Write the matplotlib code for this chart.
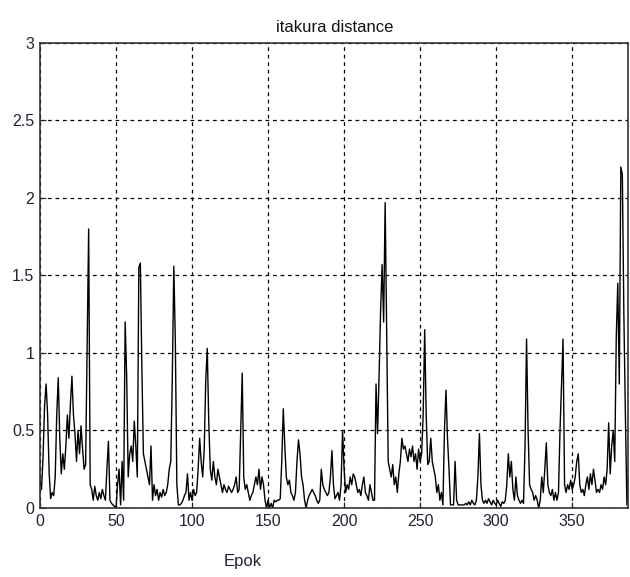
import matplotlib
matplotlib.use("Agg")
import matplotlib.pyplot as plt
import numpy as np

# itakura distance per epoch
dist = [
    0.18, 0.12, 0.33, 0.66, 0.80, 0.60, 0.23, 0.06, 0.10, 0.08,
    0.20, 0.60, 0.84, 0.45, 0.22, 0.35, 0.25, 0.40, 0.60, 0.45,
    0.67, 0.85, 0.60, 0.48, 0.30, 0.50, 0.35, 0.53, 0.38, 0.25,
    0.28, 1.05, 1.80, 0.15, 0.12, 0.05, 0.14, 0.08, 0.05, 0.10,
    0.06, 0.12, 0.08, 0.05, 0.25, 0.43, 0.05, 0.03, 0.02, 0.01,
    0.00, 0.15, 0.25, 0.02, 0.30, 0.05, 1.20, 0.85, 0.20, 0.35,
    0.40, 0.30, 0.56, 0.40, 0.20, 1.55, 1.58, 0.90, 0.35, 0.30,
    0.25, 0.20, 0.15, 0.40, 0.05, 0.15, 0.08, 0.12, 0.05, 0.10,
    0.07, 0.12, 0.08, 0.10, 0.15, 0.25, 0.30, 0.83, 1.56, 1.08,
    0.15, 0.02, 0.02, 0.03, 0.05, 0.08, 0.10, 0.22, 0.05, 0.10,
    0.05, 0.12, 0.08, 0.10, 0.25, 0.45, 0.30, 0.20, 0.38, 0.82,
    1.03, 0.55, 0.25, 0.18, 0.30, 0.20, 0.15, 0.25, 0.20, 0.15,
    0.10, 0.15, 0.12, 0.10, 0.14, 0.12, 0.10, 0.12, 0.15, 0.20,
    0.10, 0.12, 0.50, 0.87, 0.20, 0.12, 0.15, 0.10, 0.05, 0.08,
    0.10, 0.15, 0.20, 0.15, 0.25, 0.12, 0.20, 0.15, 0.05, 0.00,
    0.05, 0.00, 0.03, 0.00, 0.05, 0.04, 0.05, 0.05, 0.06, 0.30,
    0.64, 0.40, 0.20, 0.15, 0.18, 0.10, 0.08, 0.05, 0.10, 0.30,
    0.44, 0.35, 0.20, 0.15, 0.05, 0.00, 0.05, 0.08, 0.10, 0.12,
    0.10, 0.08, 0.05, 0.03, 0.05, 0.25, 0.15, 0.12, 0.10, 0.08,
    0.10, 0.20, 0.37, 0.15, 0.06, 0.08, 0.10, 0.05, 0.15, 0.50,
    0.25, 0.10, 0.15, 0.12, 0.20, 0.15, 0.22, 0.20, 0.15, 0.10,
    0.12, 0.08, 0.15, 0.20, 0.10, 0.08, 0.05, 0.15, 0.10, 0.05,
    0.05, 0.80, 0.48, 0.85, 1.27, 1.57, 1.20, 1.97, 1.15, 0.30,
    0.25, 0.20, 0.28, 0.15, 0.20, 0.10, 0.22, 0.30, 0.45, 0.38,
    0.40, 0.35, 0.30, 0.38, 0.33, 0.40, 0.30, 0.35, 0.25, 0.38,
    0.30, 0.35, 0.60, 1.15, 0.60, 0.28, 0.30, 0.45, 0.30, 0.25,
    0.20, 0.10, 0.15, 0.05, 0.10, 0.02, 0.50, 0.76, 0.45, 0.25,
    0.02, 0.02, 0.02, 0.30, 0.05, 0.02, 0.02, 0.02, 0.02, 0.02,
    0.03, 0.02, 0.04, 0.02, 0.05, 0.03, 0.02, 0.05, 0.20, 0.48,
    0.15, 0.05, 0.03, 0.05, 0.03, 0.06, 0.04, 0.02, 0.05, 0.03,
    0.02, 0.05, 0.03, 0.01, 0.04, 0.03, 0.05, 0.15, 0.35, 0.20,
    0.30, 0.12, 0.05, 0.20, 0.08, 0.05, 0.03, 0.05, 0.03, 0.40,
    1.09, 0.50, 0.15, 0.12, 0.10, 0.05, 0.08, 0.05, 0.00, 0.05,
    0.20, 0.10, 0.25, 0.42, 0.15, 0.10, 0.08, 0.12, 0.05, 0.10,
    0.05, 0.10, 0.50, 0.80, 1.09, 0.15, 0.10, 0.15, 0.12, 0.18,
    0.12, 0.15, 0.20, 0.30, 0.35, 0.15, 0.10, 0.12, 0.08, 0.15,
    0.20, 0.12, 0.22, 0.15, 0.25, 0.18, 0.10, 0.12, 0.10, 0.15,
    0.12, 0.20, 0.15, 0.25, 0.55, 0.22, 0.40, 0.50, 0.30, 1.10,
    1.45, 0.80, 2.20, 2.15, 1.25, 0.60, 0.02, 0.25,
]
epoch = np.arange(len(dist))

xticks = [0, 50, 100, 150, 200, 250, 300, 350]
yticks = [0, 0.5, 1, 1.5, 2, 2.5, 3]
ytick_labels = ["0", "0.5", "1", "1.5", "2", "2.5", "3"]

plt.rcParams['font.family'] = ['Liberation Sans', 'DejaVu Sans']

fig = plt.figure(figsize=(6.3, 5.77), dpi=100)
ax = fig.add_axes([0.0635, 0.1196, 0.934, 0.806])

ax.plot(epoch, dist, color='k', linewidth=1.0)

ax.set_xlim(0, len(dist) - 1)
ax.set_ylim(0, 3)
ax.set_xticks(xticks)
ax.set_yticks(yticks)
ax.set_yticklabels(ytick_labels)
ax.tick_params(direction='in', length=4, labelsize=11.5, colors='#222233', pad=4)
ax.grid(True, color='k', linestyle=(0, (3, 3)), linewidth=0.9)
for s in ax.spines.values():
    s.set_color('#333333')
    s.set_linewidth(1.2)

ax.set_title("itakura distance", fontsize=12, pad=8, color='#111111')
fig.text(0.385, 0.026, "Epok", fontsize=12, ha='center', va='center', color='#222233')

fig.savefig("out.png", dpi=100)
